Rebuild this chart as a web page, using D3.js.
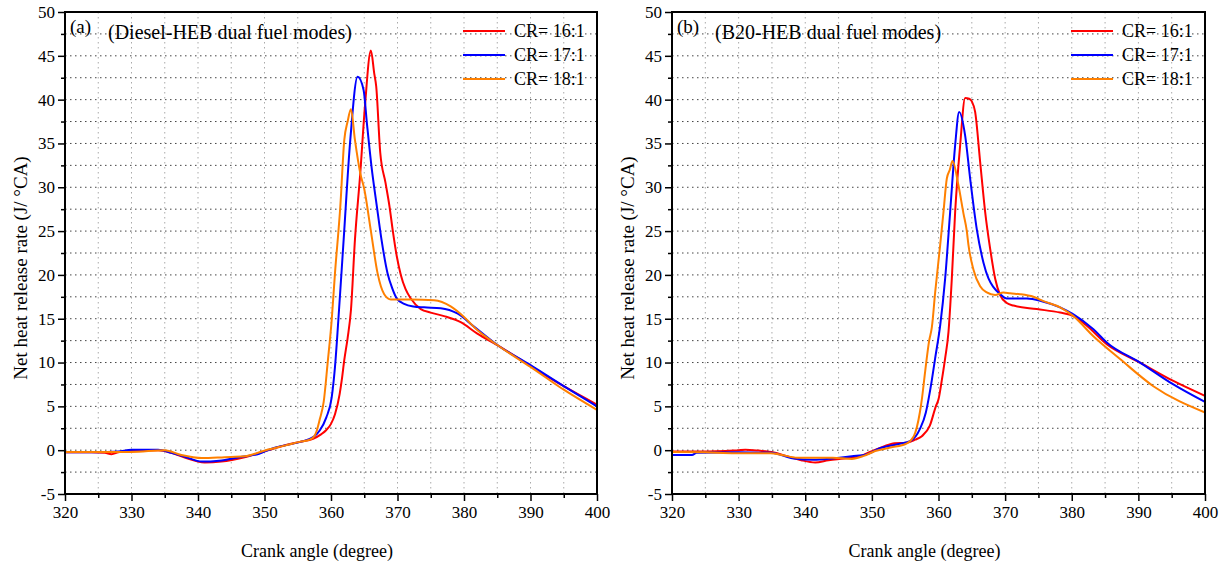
<!DOCTYPE html>
<html>
<head>
<meta charset="utf-8">
<script src="https://cdn.jsdelivr.net/npm/d3@7"></script>
<style>
  html, body { margin: 0; padding: 0; background: #fff; }
  svg { display: block; }
  svg text { font-family: "Liberation Serif", "Times New Roman", serif; fill: #000; }
</style>
</head>
<body>
<svg id="chart" width="1227" height="567"></svg>
<script>
// Net heat release rate vs crank angle, [crank angle (deg), HRR (J/°CA)]
const seriesNames = ["CR= 16:1", "CR= 17:1", "CR= 18:1"];
const seriesColors = ["#ff0000", "#0000ff", "#ff8000"];

const xTicks = [320, 330, 340, 350, 360, 370, 380, 390, 400];
const yTicks = [-5, 0, 5, 10, 15, 20, 25, 30, 35, 40, 45, 50];

// (a) Diesel-HEB dual fuel modes
const dieselCR16 = [[320,-0.25],[324,-0.25],[326,-0.3],[327,-0.45],[328,-0.25],[330,-0.05],[334,0],[336,-0.3],[338,-0.85],[341,-1.4],[343.5,-1.3],[347,-0.8],[349.7,-0.2],[352.3,0.4],[355.3,0.95],[357.3,1.3],[358.5,1.8],[359.3,2.3],[360,3.0],[360.6,4.1],[361.3,6.4],[361.6,7.9],[362,10.3],[362.5,12.8],[363,16],[363.6,24],[364.4,31.6],[365.1,39.2],[366,45.6],[366.5,43],[366.8,41.5],[367.4,34],[368.2,30.5],[368.8,27.8],[369.3,25],[369.9,22.1],[370.5,20],[371.2,18.4],[372,17.3],[373.5,16.1],[375,15.7],[377,15.3],[379.5,14.6],[382,13.3],[385,12],[390,9.6],[395,7.3],[400,5.2]];
const dieselCR17 = [[320,-0.25],[326,-0.2],[328,-0.15],[330,0.05],[334,0.05],[336,-0.3],[338,-0.75],[340.6,-1.3],[343.2,-1.2],[346.2,-0.8],[349.2,-0.4],[351.2,0.2],[354.3,0.75],[356.5,1.2],[357.5,1.6],[358.3,2.25],[359.3,3.75],[360.1,6],[360.6,9.5],[361.1,14.8],[361.9,24],[362.9,35.4],[364,42.6],[364.9,41.1],[365.4,37.3],[366.1,32.3],[366.9,27.8],[367.6,24],[368.5,20.2],[369.2,18.5],[369.9,17.3],[371,16.7],[372.4,16.4],[374,16.3],[376.5,16.2],[379,15.6],[381.5,14.1],[385,12],[390,9.7],[395,7.3],[400,5.0]];
const dieselCR18 = [[320,-0.2],[330,-0.2],[335,0],[337.5,-0.55],[340.6,-0.9],[344,-0.8],[347,-0.7],[350.2,0],[353.2,0.55],[355.3,0.95],[356.8,1.2],[357.5,1.6],[357.8,2.1],[358.3,3.5],[358.9,5.5],[359.5,10],[360.1,14.8],[360.6,20.2],[361.4,27.8],[362,35.4],[362.5,37.5],[363,38.9],[363.6,35.4],[364.4,31.6],[365,29.8],[366,25],[367,20.2],[368,17.8],[369,17.2],[370,17.2],[372,17.2],[375.5,17.1],[378,16.4],[380,15.2],[382,13.7],[385,12],[390,9.5],[395,6.9],[400,4.6]];

// (b) B20-HEB dual fuel modes
const b20CR16 = [[320,-0.15],[325.4,-0.15],[328,-0.1],[330,0],[331,0.05],[333,-0.05],[335.3,-0.25],[337.1,-0.65],[339.4,-1.15],[341.5,-1.4],[343.5,-1.15],[345.8,-0.95],[348.2,-0.7],[350,-0.1],[351.7,0.4],[353.4,0.8],[355.2,0.85],[356.5,1.2],[357.5,1.6],[358.7,2.8],[359.6,5],[360,5.8],[360.5,8],[361,10.5],[361.5,13.5],[362,19.6],[362.5,27.2],[363.25,34.8],[364,40.2],[364.6,40.1],[365,39.8],[365.5,38.6],[366.25,32.9],[367,27.2],[367.75,23],[368.5,19.6],[369.25,17.7],[370.25,16.8],[371.25,16.5],[374.75,16.1],[378.25,15.7],[380.25,15.3],[382.25,14.2],[385.25,12.1],[390.25,10],[395.25,7.9],[400,6.2]];
const b20CR17 = [[320,-0.55],[323,-0.55],[323.7,-0.3],[330,-0.25],[335,-0.3],[335.9,-0.45],[338.3,-0.95],[341.2,-1.1],[344.1,-0.95],[347,-0.7],[349.3,-0.45],[351.1,0.2],[354,0.7],[355.8,1.05],[357.2,2.4],[358.1,4.3],[358.5,5.8],[359,8],[359.5,10.5],[360.25,14.2],[361,19.6],[361.75,27.2],[362.5,34.8],[363.1,38.6],[364,35.9],[364.75,31],[365.75,25.2],[366.75,21.4],[367.5,19.6],[368.25,18.6],[369.25,17.8],[370.25,17.3],[373.25,17.3],[375.5,17],[378.25,16.3],[380.25,15.5],[383.25,13.8],[385.25,12.3],[390.25,10],[395.25,7.5],[400,5.5]];
const b20CR18 = [[320,-0.2],[325,-0.25],[329.5,-0.35],[334.8,-0.35],[336.5,-0.55],[338.8,-0.85],[344.1,-0.85],[347,-1.0],[348.8,-0.65],[350.5,-0.1],[352.8,0.3],[355.2,0.75],[356.3,1.6],[357.2,4.3],[357.5,5.8],[358,9],[358.6,12.5],[359,14],[359.5,18],[360.25,23.4],[360.75,27.2],[361.25,31],[361.7,32],[362.1,33],[363,30.2],[363.75,27],[364.25,25],[364.5,23.4],[365.25,20.6],[366.25,18.7],[367.25,18],[368.5,17.7],[369.75,18],[370.75,17.9],[372.25,17.8],[374.25,17.5],[375.75,17],[378.25,16.3],[380.25,15.3],[383.25,13],[387.25,10.4],[392.25,7.3],[400,4.3]];

const panels = [
  { left: 65,  right: 597,  tag: "(a)", title: "(Diesel-HEB dual fuel modes)", series: [dieselCR16, dieselCR17, dieselCR18] },
  { left: 672, right: 1205, tag: "(b)", title: "(B20-HEB dual fuel modes)",    series: [b20CR16, b20CR17, b20CR18] }
];

const plotTop = 12, plotBottom = 494;
const serif = "'Liberation Serif', 'Times New Roman', serif";
const svg = d3.select("#chart");
const plainNumber = d => String(d);   // ASCII hyphen for negatives

panels.forEach(p => {
  const x = d3.scaleLinear().domain([320, 400]).range([p.left, p.right]);
  const y = d3.scaleLinear().domain([-5, 50]).range([plotBottom, plotTop]);
  const g = svg.append("g");

  // dotted grid
  const hGrid = d3.range(-2.5, 50, 2.5);
  g.selectAll(".hg").data(hGrid).join("line")
    .attr("x1", p.left).attr("x2", p.right)
    .attr("y1", d => y(d)).attr("y2", d => y(d))
    .attr("stroke", "#444").attr("stroke-width", 1).attr("stroke-dasharray", "1.5,3.5");
  const vGrid = d3.range(325, 400, 5);
  g.selectAll(".vg").data(vGrid).join("line")
    .attr("x1", d => x(d)).attr("x2", d => x(d))
    .attr("y1", plotTop).attr("y2", plotBottom)
    .attr("stroke", "#aaa").attr("stroke-width", 1).attr("stroke-dasharray", "1.5,3.5");

  // curves
  const line = d3.line().x(d => x(d[0])).y(d => y(d[1])).curve(d3.curveMonotoneX);
  p.series.forEach((s, i) => {
    g.append("path").datum(s)
      .attr("fill", "none").attr("stroke", seriesColors[i])
      .attr("stroke-width", 2).attr("stroke-linejoin", "round")
      .attr("d", line);
  });

  // axes: major ticks with labels, minor ticks without
  const xAxis = d3.axisBottom(x).tickValues(xTicks).tickSize(7).tickPadding(5).tickFormat(plainNumber);
  const xMinor = d3.axisBottom(x).tickValues(d3.range(325, 400, 10)).tickSize(4).tickFormat("");
  const yAxis = d3.axisLeft(y).tickValues(yTicks).tickSize(7).tickPadding(3).tickFormat(plainNumber);
  const yMinor = d3.axisLeft(y).tickValues(d3.range(-2.5, 50, 5)).tickSize(4).tickFormat("");

  const styleAxis = a => {
    a.select(".domain").remove();
    a.attr("font-family", serif).attr("font-size", 17);
    a.selectAll(".tick line").attr("stroke", "#000").attr("stroke-width", 1.5);
    a.selectAll(".tick text")
      .style("font-family", serif).style("font-size", "17px").attr("fill", "#000");
  };
  [xAxis, xMinor].forEach(ax => {
    g.append("g").attr("transform", `translate(0,${plotBottom})`).call(ax).call(styleAxis);
  });
  [yAxis, yMinor].forEach(ax => {
    g.append("g").attr("transform", `translate(${p.left},0)`).call(ax).call(styleAxis);
  });

  // frame
  g.append("rect").attr("x", p.left).attr("y", plotTop)
    .attr("width", p.right - p.left).attr("height", plotBottom - plotTop)
    .attr("fill", "none").attr("stroke", "#000").attr("stroke-width", 2);

  // panel tag and title
  g.append("text").attr("x", p.left + 5).attr("y", 33).style("font-size", "19px").text(p.tag);
  g.append("text").attr("x", p.left + 43).attr("y", 39).style("font-size", "20px").text(p.title);

  // legend
  const lx = p.right - 134;
  seriesNames.forEach((name, i) => {
    const ly = 31 + i * 24;
    g.append("line").attr("x1", lx).attr("x2", lx + 42).attr("y1", ly).attr("y2", ly)
      .attr("stroke", seriesColors[i]).attr("stroke-width", 2);
    g.append("text").attr("x", lx + 51).attr("y", ly).attr("dy", "0.35em")
      .style("font-size", "18px").text(name);
  });

  // axis titles
  const cx = (p.left + p.right) / 2 - 14;
  g.append("text").attr("x", cx).attr("y", 557).attr("text-anchor", "middle")
    .style("font-size", "18px").text("Crank angle (degree)");
  g.append("text").attr("transform", `translate(${p.left - 38},268) rotate(-90)`)
    .attr("text-anchor", "middle").style("font-size", "19px")
    .text("Net heat release rate (J/ °CA)");
});
</script>
</body>
</html>
